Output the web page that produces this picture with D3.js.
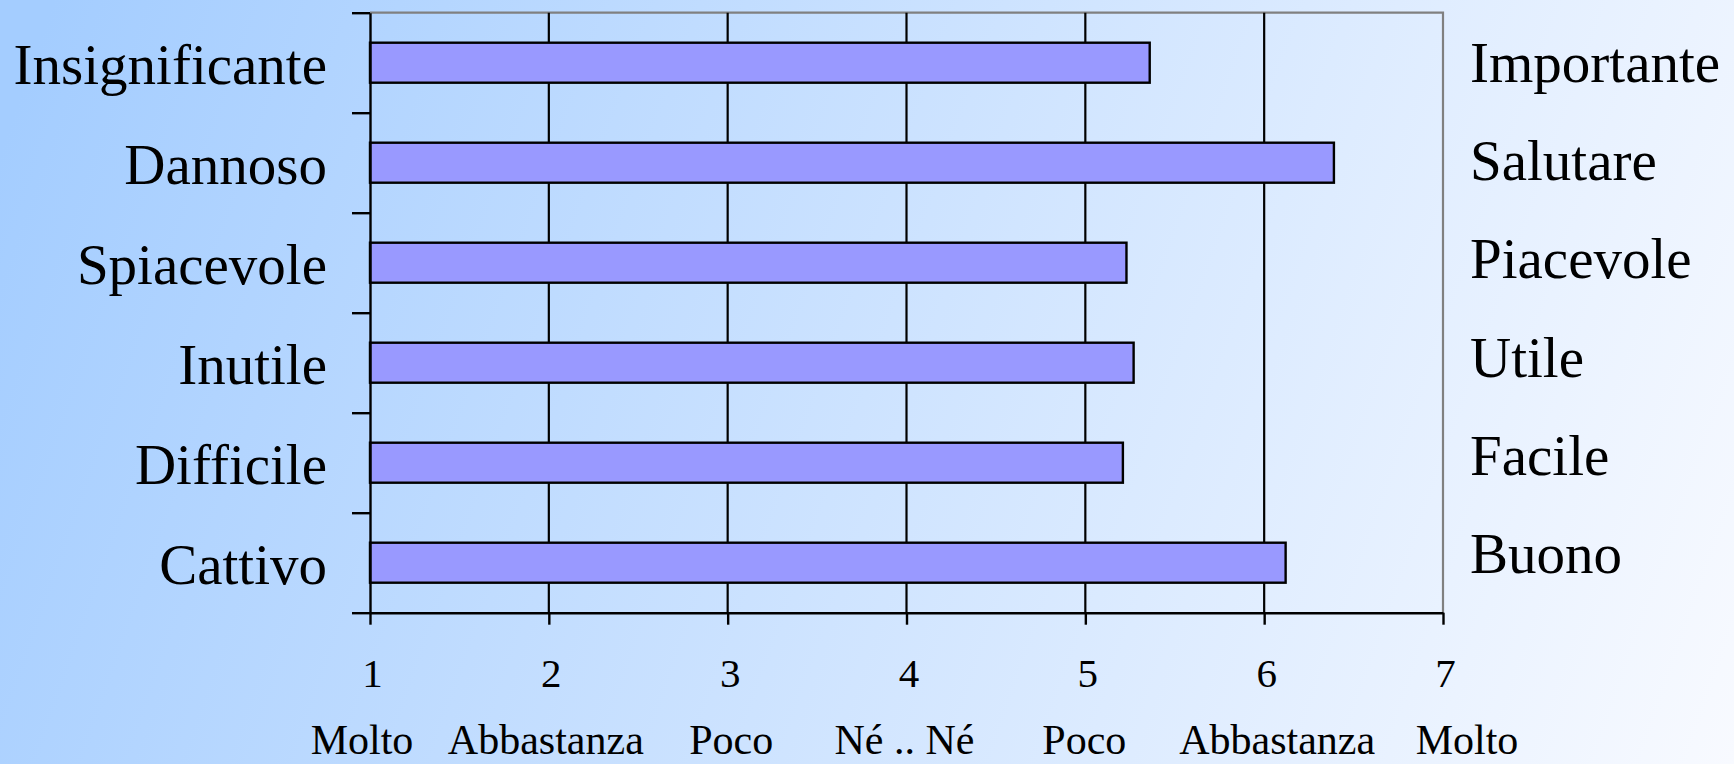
<!DOCTYPE html>
<html>
<head>
<meta charset="utf-8">
<script src="https://cdn.jsdelivr.net/npm/d3@7"></script>
<style>
  html, body { margin: 0; padding: 0; }
  svg { display: block; }
  text { font-family: "Liberation Serif", "Times New Roman", serif; fill: #000; }
</style>
</head>
<body>
<svg id="chart" width="1734" height="764"></svg>
<script>
// Semantic differential: negative pole (left), positive pole (right), mean score 1..7
const negativePoles = ["Insignificante", "Dannoso", "Spiacevole", "Inutile", "Difficile", "Cattivo"];
const positivePoles = ["Importante", "Salutare", "Piacevole", "Utile", "Facile", "Buono"];
const meanScores = [5.36, 6.39, 5.23, 5.27, 5.21, 6.12];
const scaleTicks = [1, 2, 3, 4, 5, 6, 7];
const scaleWords = ["Molto", "Abbastanza", "Poco", "Né .. Né", "Poco", "Abbastanza", "Molto"];

// Layout
const W = 1734, H = 764;
const plot = { left: 370, right: 1443, top: 12.7, bottom: 612.7 };
const wordNudge = [-8, -3, 3.5, -2, -1, 13, 24];

const svg = d3.select("#chart");

// Background gradient
const defs = svg.append("defs");
const grad = defs.append("linearGradient")
  .attr("id", "bg").attr("gradientUnits", "userSpaceOnUse")
  .attr("x1", 0).attr("y1", 150).attr("x2", W).attr("y2", H);
grad.append("stop").attr("offset", 0).attr("stop-color", "#a4cdff");
grad.append("stop").attr("offset", 1).attr("stop-color", "#f8faff");
svg.append("rect").attr("width", W).attr("height", H).attr("fill", "url(#bg)");

const x = d3.scaleLinear().domain([1, 7]).range([plot.left, plot.right]);
const y = d3.scaleBand().domain(negativePoles)
  .range([plot.top, plot.bottom]).paddingInner(0.6).paddingOuter(0.3);
const yEdge = d3.scaleLinear().domain([0, negativePoles.length]).range([plot.top, plot.bottom]);
const yRight = d3.scalePoint().domain(positivePoles).range([81.7, 573.3]);

// Plot frame (top and right) in grey
svg.append("path")
  .attr("d", `M${x(1)},${plot.top}H${x(7)}V${plot.bottom}`)
  .attr("fill", "none").attr("stroke", "#808080").attr("stroke-width", 2.2);

// Vertical gridlines
svg.append("g").selectAll("line")
  .data(scaleTicks.slice(1, -1))
  .join("line")
  .attr("x1", d => x(d)).attr("x2", d => x(d))
  .attr("y1", plot.top).attr("y2", plot.bottom)
  .attr("stroke", "#000").attr("stroke-width", 2.2);

// Bars
svg.append("g").selectAll("rect")
  .data(meanScores.map((v, i) => ({ cat: negativePoles[i], v })))
  .join("rect")
  .attr("x", x(1))
  .attr("y", d => y(d.cat))
  .attr("width", d => x(d.v) - x(1))
  .attr("height", y.bandwidth())
  .attr("fill", "#9999ff")
  .attr("stroke", "#000").attr("stroke-width", 2.4);

// Left axis: ticks on category boundaries
const leftAxis = svg.append("g")
  .attr("transform", `translate(${plot.left},0)`)
  .call(d3.axisLeft(yEdge).tickValues(d3.range(0, negativePoles.length + 1))
    .tickSize(18).tickSizeOuter(0).tickFormat(""));
leftAxis.selectAll("path, line").attr("stroke", "#000").attr("stroke-width", 2.4);

// Bottom axis with numeric scale points
const bottomAxis = svg.append("g")
  .attr("transform", `translate(0,${plot.bottom})`)
  .call(d3.axisBottom(x).tickValues(scaleTicks).tickSize(12).tickSizeOuter(0)
    .tickFormat(d3.format("d")));
bottomAxis.selectAll("path, line").attr("stroke", "#000").attr("stroke-width", 2.4);
bottomAxis.selectAll("text")
  .attr("y", 74).attr("dy", 0).attr("dx", 2)
  .style("font-size", "41px")
  .style("font-family", "'Liberation Serif', 'Times New Roman', serif")
  .attr("fill", "#000");

// Verbal anchors under the numeric scale
svg.append("g").selectAll("text")
  .data(scaleWords)
  .join("text")
  .attr("x", (d, i) => x(scaleTicks[i]) + wordNudge[i])
  .attr("y", 754)
  .attr("text-anchor", "middle")
  .style("font-size", "42px")
  .text(d => d);

// Negative poles (left)
svg.append("g").selectAll("text")
  .data(negativePoles)
  .join("text")
  .attr("x", 327)
  .attr("y", d => y(d) + y.bandwidth() / 2 + 21)
  .attr("text-anchor", "end")
  .style("font-size", "57px")
  .text(d => d);

// Positive poles (right)
svg.append("g").selectAll("text")
  .data(positivePoles)
  .join("text")
  .attr("x", 1470)
  .attr("y", d => yRight(d))
  .attr("text-anchor", "start")
  .style("font-size", "57px")
  .text(d => d);
</script>
</body>
</html>
